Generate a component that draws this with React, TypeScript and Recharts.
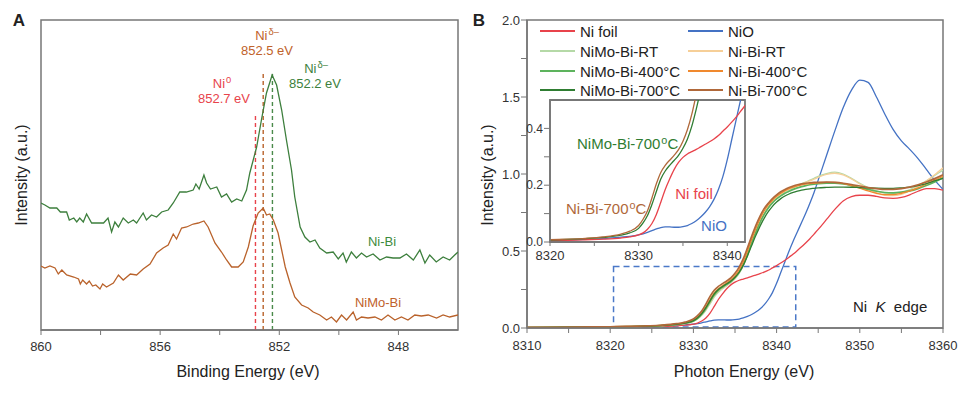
import type { ReactNode } from "react";
import { LineChart, Line, XAxis, YAxis, ReferenceLine, ReferenceArea } from "recharts";

const FONT = "'Liberation Sans', Arial, Helvetica, sans-serif";
const AXIS = "#777";
const TICK = { fontSize: 13, fill: "#333", fontFamily: FONT };

// ---- panel A: Ni 2p XPS ----
const niBiEnergy = [
  860, 859.87, 859.7, 859.47, 859.35, 859.14, 859.05, 858.9, 858.8, 858.7, 858.58, 858.47, 858.3, 858.13,
  857.9, 857.75, 857.63, 857.52, 857.4, 857.24, 857.07, 856.9, 856.79, 856.57, 856.46, 856.29, 856.12,
  855.95, 855.73, 855.56, 855.34, 855.12, 854.89, 854.8, 854.69, 854.53, 854.44, 854.31, 854.1, 853.94,
  853.77, 853.6, 853.43, 853.26, 853.1, 852.99, 852.76, 852.6, 852.43, 852.24, 852.09, 851.92, 851.76,
  851.59, 851.48, 851.3, 851.14, 850.97, 850.8, 850.64, 850.41, 850.19, 850.02, 849.86, 849.75, 849.58,
  849.41, 849.24, 849.07, 848.85, 848.62, 848.4, 848.18, 847.95, 847.73, 847.5, 847.28, 847.11, 846.95,
  846.73, 846.5, 846.28, 846.11, 846,
];
const niBiIntensity = [
  127, 125, 122, 122, 118, 118, 110, 112, 108, 112, 108, 116, 107, 107,
  107, 112, 98, 108, 103, 112, 107, 110, 107, 117, 110, 115, 113,
  118, 120, 127, 138, 138, 140, 146, 141, 155, 147, 141, 143, 133,
  136, 128, 131, 129, 140, 157, 183, 210, 237, 255, 245, 220, 190,
  160, 133, 103, 93, 88, 90, 82, 77, 78, 71, 77, 68, 78,
  72, 77, 73, 76, 70, 73, 72, 72, 76, 70, 80, 67, 75,
  68, 73, 70, 75, 78,
];
const niMoBiEnergy = [
  860, 859.87, 859.7, 859.53, 859.42, 859.3, 859.14, 858.9, 858.74, 858.68, 858.6, 858.47, 858.38, 858.27,
  858.16, 858.02, 857.93, 857.8, 857.57, 857.4, 857.24, 857, 856.79, 856.57, 856.34, 856.12, 855.9,
  855.73, 855.56, 855.45, 855.28, 855.11, 854.89, 854.72, 854.53, 854.39, 854.16, 853.94, 853.77, 853.6,
  853.38, 853.21, 853.04, 852.88, 852.71, 852.54, 852.43, 852.32, 852.2, 852.04, 851.92, 851.8, 851.64,
  851.48, 851.25, 851.03, 850.86, 850.64, 850.41, 850.25, 850.08, 849.91, 849.74, 849.52, 849.41, 849.24,
  849.02, 848.79, 848.57, 848.35, 848.12, 847.9, 847.68, 847.45, 847.23, 847, 846.72, 846.5, 846.28, 846,
];
const niMoBiIntensity = [
  64, 62, 64, 62, 56, 60, 55, 53, 51, 46, 50, 46, 49, 44,
  45, 41, 46, 43, 47, 55, 50, 56, 55, 61, 66, 77, 82,
  85, 96, 91, 102, 103, 106, 107, 109, 103, 87, 78, 70, 63,
  63, 68, 83, 104, 117, 122, 115, 116, 110, 97, 80, 63, 47,
  33, 25, 22, 18, 15, 10, 13, 8, 15, 10, 18, 10, 13,
  12, 13, 10, 15, 10, 13, 10, 15, 14, 15, 12, 15, 13, 15,
];
const xpsTicks = [860, 858, 856, 854, 852, 850, 848];
const xpsLabelled = [860, 856, 852, 848];

// ---- panel B: Ni K-edge XANES ----
const photonEnergy = [
  8310, 8314, 8318, 8320, 8322, 8324, 8326, 8328, 8329, 8330, 8330.5, 8331, 8331.5, 8332, 8332.5, 8333,
  8333.5, 8334, 8334.5, 8335, 8335.5, 8336, 8336.5, 8337, 8337.5, 8338, 8338.5, 8339, 8339.5, 8340,
  8340.5, 8341, 8341.5, 8342, 8342.5, 8343, 8343.5, 8344, 8344.5, 8345, 8346, 8347, 8348, 8349, 8350,
  8351, 8352, 8353, 8354, 8355, 8356, 8357, 8358, 8359, 8360,
];
const niFoil = [
  0.002, 0.003, 0.004, 0.005, 0.006, 0.008, 0.01, 0.014, 0.018, 0.025, 0.032, 0.045, 0.065, 0.097, 0.14, 0.185,
  0.222, 0.255, 0.28, 0.298, 0.31, 0.318, 0.326, 0.335, 0.344, 0.353, 0.363, 0.375, 0.39, 0.405,
  0.422, 0.44, 0.46, 0.48, 0.503, 0.527, 0.553, 0.58, 0.61, 0.64, 0.705, 0.77, 0.825, 0.853, 0.862,
  0.862, 0.855, 0.845, 0.842, 0.848, 0.865, 0.888, 0.905, 0.905, 0.895,
];
const niO = [
  0.002, 0.003, 0.005, 0.006, 0.007, 0.009, 0.012, 0.017, 0.02, 0.025, 0.029, 0.034, 0.04, 0.046, 0.051, 0.053,
  0.053, 0.052, 0.052, 0.054, 0.058, 0.065, 0.075, 0.088, 0.104, 0.124, 0.15, 0.185, 0.23, 0.29,
  0.36, 0.43, 0.5, 0.565, 0.625, 0.685, 0.745, 0.81, 0.88, 0.96, 1.12, 1.28, 1.43, 1.545, 1.61,
  1.595, 1.5, 1.39, 1.29, 1.215, 1.16, 1.1, 1.03, 0.96, 0.9,
];
const niMoBiRT = [
  0.003, 0.004, 0.006, 0.007, 0.009, 0.011, 0.015, 0.022, 0.029, 0.042, 0.058, 0.082, 0.115, 0.157, 0.2, 0.232,
  0.255, 0.275, 0.295, 0.32, 0.355, 0.405, 0.47, 0.545, 0.615, 0.68, 0.735, 0.78, 0.815, 0.843,
  0.865, 0.883, 0.898, 0.912, 0.925, 0.937, 0.948, 0.96, 0.972, 0.985, 1.003, 1.012, 1.0, 0.972, 0.94,
  0.912, 0.89, 0.876, 0.873, 0.88, 0.898, 0.925, 0.955, 0.99, 1.025,
];
const niBiRT = [
  0.003, 0.004, 0.006, 0.007, 0.009, 0.011, 0.015, 0.023, 0.03, 0.044, 0.062, 0.087, 0.122, 0.165, 0.208, 0.238,
  0.26, 0.28, 0.3, 0.325, 0.36, 0.41, 0.475, 0.55, 0.62, 0.685, 0.74, 0.785, 0.82, 0.848,
  0.87, 0.888, 0.902, 0.914, 0.925, 0.935, 0.945, 0.955, 0.966, 0.978, 0.997, 1.005, 0.995, 0.968, 0.935,
  0.903, 0.878, 0.862, 0.86, 0.868, 0.89, 0.92, 0.955, 0.995, 1.04,
];
const niMoBi400 = [
  0.003, 0.004, 0.006, 0.007, 0.009, 0.011, 0.016, 0.023, 0.031, 0.045, 0.063, 0.09, 0.127, 0.172, 0.215, 0.245,
  0.265, 0.283, 0.302, 0.328, 0.362, 0.412, 0.478, 0.552, 0.622, 0.685, 0.738, 0.78, 0.812, 0.838,
  0.858, 0.875, 0.888, 0.9, 0.91, 0.918, 0.925, 0.93, 0.934, 0.937, 0.94, 0.94, 0.935, 0.925, 0.912,
  0.9, 0.888, 0.88, 0.878, 0.882, 0.89, 0.905, 0.925, 0.948, 0.975,
];
const niBi400 = [
  0.004, 0.005, 0.007, 0.008, 0.01, 0.012, 0.017, 0.026, 0.034, 0.05, 0.07, 0.098, 0.138, 0.185, 0.228, 0.255,
  0.275, 0.293, 0.313, 0.34, 0.378, 0.43, 0.5, 0.575, 0.645, 0.708, 0.76, 0.8, 0.83, 0.855,
  0.875, 0.892, 0.905, 0.915, 0.923, 0.93, 0.935, 0.938, 0.94, 0.942, 0.945, 0.945, 0.938, 0.925, 0.908,
  0.89, 0.875, 0.866, 0.866, 0.875, 0.89, 0.91, 0.935, 0.96, 0.985,
];
const niMoBi700 = [
  0.004, 0.005, 0.006, 0.007, 0.009, 0.012, 0.016, 0.024, 0.032, 0.048, 0.067, 0.093, 0.132, 0.178, 0.222, 0.25,
  0.27, 0.287, 0.305, 0.33, 0.362, 0.408, 0.468, 0.535, 0.6, 0.66, 0.712, 0.755, 0.79, 0.818,
  0.84, 0.857, 0.87, 0.88, 0.888, 0.895, 0.9, 0.904, 0.907, 0.91, 0.913, 0.915, 0.915, 0.914, 0.912,
  0.91, 0.908, 0.907, 0.907, 0.91, 0.915, 0.925, 0.938, 0.955, 0.972,
];
const niBi700 = [
  0.004, 0.005, 0.007, 0.008, 0.01, 0.013, 0.018, 0.028, 0.038, 0.058, 0.08, 0.11, 0.155, 0.205, 0.245, 0.27,
  0.288, 0.305, 0.325, 0.355, 0.395, 0.45, 0.52, 0.595, 0.665, 0.725, 0.775, 0.81, 0.84, 0.865,
  0.885, 0.9, 0.912, 0.922, 0.93, 0.936, 0.94, 0.943, 0.945, 0.946, 0.947, 0.945, 0.94, 0.932, 0.922,
  0.912, 0.905, 0.9, 0.9, 0.905, 0.915, 0.93, 0.948, 0.97, 0.995,
];
const xanesXTicks = [8310, 8315, 8320, 8325, 8330, 8335, 8340, 8345, 8350, 8355, 8360];
const xanesYTicks = [0, 0.25, 0.5, 0.75, 1, 1.25, 1.5, 1.75, 2];
const insetXTicks = [8320, 8325, 8330, 8335, 8340];
const insetYTicks = [0, 0.1, 0.2, 0.3, 0.4];

const COLORS = {
  niFoil: "#e8434b",
  niO: "#4472c4",
  niMoBiRT: "#b5d9a7",
  niBiRT: "#f6cf98",
  niMoBi400: "#5db35d",
  niBi400: "#f0892e",
  niMoBi700: "#2f7d32",
  niBi700: "#b0683a",
};

const xanesRows = photonEnergy.map((e, i) => ({
  e,
  niFoil: niFoil[i],
  niO: niO[i],
  niMoBiRT: niMoBiRT[i],
  niBiRT: niBiRT[i],
  niMoBi400: niMoBi400[i],
  niBi400: niBi400[i],
  niMoBi700: niMoBi700[i],
  niBi700: niBi700[i],
}));

const niBiRows = niBiEnergy.map((e, i) => ({ e, v: niBiIntensity[i] }));
const niMoBiRows = niMoBiEnergy.map((e, i) => ({ e, v: niMoBiIntensity[i] }));

type NoteProps = {
  x: number;
  y: number;
  color?: string;
  size?: number;
  anchor?: "start" | "middle";
  bold?: boolean;
  rotate?: boolean;
  children: ReactNode;
};

function Note({ x, y, color = "#222", size = 13, anchor = "middle", bold, rotate, children }: NoteProps) {
  const tx = anchor === "middle" ? "-50%" : "0";
  return (
    <div
      style={{
        position: "absolute",
        left: x,
        top: y,
        transform: `translate(${tx}, -50%)${rotate ? " rotate(-90deg)" : ""}`,
        color,
        fontSize: size,
        fontFamily: FONT,
        fontWeight: bold ? 700 : 400,
        whiteSpace: "nowrap",
        lineHeight: 1,
      }}
    >
      {children}
    </div>
  );
}

const Sup = ({ children }: { children: ReactNode }) => (
  <span style={{ fontSize: "0.72em", position: "relative", top: "-0.5em", marginLeft: 1 }}>{children}</span>
);

function LegendItem({ x, y, color, width = 1.5, label }: { x: number; y: number; color: string; width?: number; label: string }) {
  return (
    <>
      <div style={{ position: "absolute", left: x, top: y - width / 2, width: 35, height: width, background: color }} />
      <Note x={x + 40} y={y} size={15} anchor="start" color="#222">
        {label}
      </Note>
    </>
  );
}

const seriesOrder: (keyof typeof COLORS)[] = [
  "niO",
  "niFoil",
  "niMoBiRT",
  "niBiRT",
  "niMoBi400",
  "niBi400",
  "niMoBi700",
  "niBi700",
];

export default function App() {
  return (
    <div style={{ position: "absolute", left: 0, top: 0, width: 970, height: 393, background: "#fff", overflow: "hidden" }}>
      {/* panel A */}
      <div style={{ position: "absolute", left: 0, top: 0 }}>
        <LineChart width={470} height={393} margin={{ top: 20, right: 12, bottom: 33, left: 41 }}>
          <XAxis
            dataKey="e"
            type="number"
            domain={[846, 860]}
            reversed
            allowDataOverflow
            ticks={xpsTicks}
            tickFormatter={(v: number) => (xpsLabelled.includes(v) ? String(v) : "")}
            tick={TICK}
            tickSize={5}
            tickMargin={7}
            height={30}
            axisLine={{ stroke: AXIS, strokeWidth: 1.5 }}
            tickLine={{ stroke: AXIS }}
          />
          <YAxis type="number" domain={[0, 310]} hide />
          <ReferenceArea x1={846} x2={860} y1={0} y2={310} fill="none" stroke={AXIS} strokeWidth={1.5} />
          <ReferenceLine segment={[{ x: 852.8, y: 0 }, { x: 852.8, y: 217 }]} stroke="#e8434b" strokeDasharray="4 3" strokeWidth={1.4} />
          <ReferenceLine segment={[{ x: 852.54, y: 0 }, { x: 852.54, y: 257 }]} stroke="#b9622b" strokeDasharray="4 3" strokeWidth={1.4} />
          <ReferenceLine segment={[{ x: 852.23, y: 0 }, { x: 852.23, y: 257 }]} stroke="#4a8a4a" strokeDasharray="4 3" strokeWidth={1.4} />
          <Line data={niMoBiRows} dataKey="v" type="linear" stroke="#b9622b" strokeWidth={1.3} dot={false} activeDot={false} isAnimationActive={false} />
          <Line data={niBiRows} dataKey="v" type="linear" stroke="#3d7f3d" strokeWidth={1.3} dot={false} activeDot={false} isAnimationActive={false} />
        </LineChart>
      </div>

      {/* panel B main */}
      <div style={{ position: "absolute", left: 480, top: 0 }}>
        <LineChart width={480} height={393} data={xanesRows} margin={{ top: 20, right: 17, bottom: 35, left: 0 }}>
          <XAxis
            dataKey="e"
            type="number"
            domain={[8310, 8360]}
            allowDataOverflow
            ticks={xanesXTicks}
            tickFormatter={(v: number) => (v % 10 === 0 ? String(v) : "")}
            tick={TICK}
            tickSize={5}
            tickMargin={8}
            height={30}
            axisLine={{ stroke: AXIS, strokeWidth: 1.5 }}
            tickLine={{ stroke: AXIS }}
          />
          <YAxis
            type="number"
            domain={[0, 2]}
            allowDataOverflow
            ticks={xanesYTicks}
            tickFormatter={(v: number) => (v % 0.5 === 0 ? v.toFixed(1) : "")}
            tick={TICK}
            tickSize={6}
            tickMargin={1}
            width={47}
            axisLine={{ stroke: AXIS, strokeWidth: 1.5 }}
            tickLine={{ stroke: AXIS }}
          />
          <ReferenceArea x1={8310} x2={8360} y1={0} y2={2} fill="none" stroke={AXIS} strokeWidth={1.5} />
          <ReferenceArea x1={8320.4} x2={8342.3} y1={0.006} y2={0.4} fill="none" stroke="#4a78c8" strokeDasharray="6 4" strokeWidth={1.5} />
          {seriesOrder.map((k) => (
            <Line
              key={k}
              dataKey={k}
              type="monotone"
              stroke={COLORS[k]}
              strokeWidth={k === "niBi700" || k === "niMoBi400" ? 1.7 : 1.3}
              dot={false}
              activeDot={false}
              isAnimationActive={false}
            />
          ))}
        </LineChart>
      </div>

      {/* inset background */}
      <div style={{ position: "absolute", left: 550, top: 100, width: 195, height: 142, background: "#fff" }} />

      {/* panel B inset */}
      <div style={{ position: "absolute", left: 519, top: 90 }}>
        <LineChart width={236} height={180} data={xanesRows} margin={{ top: 10, right: 10, bottom: 8, left: 0 }}>
          <XAxis
            dataKey="e"
            type="number"
            domain={[8320, 8342]}
            allowDataOverflow
            ticks={insetXTicks}
            tickFormatter={(v: number) => (v % 10 === 0 ? String(v) : "")}
            tick={TICK}
            tickSize={4}
            tickMargin={5}
            height={20}
            axisLine={{ stroke: AXIS, strokeWidth: 1.5 }}
            tickLine={{ stroke: AXIS }}
          />
          <YAxis
            type="number"
            domain={[0, 0.5]}
            allowDataOverflow
            ticks={insetYTicks}
            tickFormatter={(v: number) => (Math.round(v * 10) % 2 === 0 ? v.toFixed(1) : "")}
            tick={{ ...TICK, fontSize: 12 }}
            tickSize={6}
            tickMargin={1}
            width={31}
            axisLine={{ stroke: AXIS, strokeWidth: 1.5 }}
            tickLine={{ stroke: AXIS }}
          />
          <ReferenceArea x1={8320} x2={8342} y1={0} y2={0.5} fill="none" stroke={AXIS} strokeWidth={1.8} />
          {(["niO", "niFoil", "niMoBi700", "niBi700"] as (keyof typeof COLORS)[]).map((k) => (
            <Line
              key={k}
              dataKey={k}
              type="monotone"
              stroke={COLORS[k]}
              strokeWidth={1.3}
              dot={false}
              activeDot={false}
              isAnimationActive={false}
            />
          ))}
        </LineChart>
      </div>

      {/* panel A text */}
      <Note x={19} y={20} size={17} bold>A</Note>
      <Note x={22} y={175} size={16} rotate>Intensity (a.u.)</Note>
      <Note x={248} y={372} size={16}>Binding Energy (eV)</Note>
      <Note x={222} y={84} color="#e8434b">
        Ni<Sup>0</Sup>
      </Note>
      <Note x={224} y={98} color="#e8434b">852.7 eV</Note>
      <Note x={267} y={36} color="#c0622b">
        Ni<Sup>δ–</Sup>
      </Note>
      <Note x={267} y={50} color="#c0622b">852.5 eV</Note>
      <Note x={316} y={69} color="#3d7f3d">
        Ni<Sup>δ–</Sup>
      </Note>
      <Note x={315} y={83} color="#3d7f3d">852.2 eV</Note>
      <Note x={382} y={241} color="#3d8a3d">Ni-Bi</Note>
      <Note x={378} y={302} color="#c0622b">NiMo-Bi</Note>

      {/* panel B text */}
      <Note x={479} y={20} size={17} bold>B</Note>
      <Note x={488} y={175} size={16} rotate>Intensity (a.u.)</Note>
      <Note x={744} y={372} size={16}>Photon Energy (eV)</Note>
      <Note x={853} y={306} size={15} anchor="start">
        Ni&nbsp; <i>K</i>&nbsp; edge
      </Note>

      <LegendItem x={540} y={31} color={COLORS.niFoil} label="Ni foil" />
      <LegendItem x={688} y={31} color={COLORS.niO} label="NiO" />
      <LegendItem x={540} y={51} color={COLORS.niMoBiRT} label="NiMo-Bi-RT" />
      <LegendItem x={688} y={51} color={COLORS.niBiRT} label="Ni-Bi-RT" />
      <LegendItem x={540} y={71} color={COLORS.niMoBi400} width={2.5} label="NiMo-Bi-400°C" />
      <LegendItem x={688} y={71} color={COLORS.niBi400} label="Ni-Bi-400°C" />
      <LegendItem x={540} y={90} color={COLORS.niMoBi700} label="NiMo-Bi-700°C" />
      <LegendItem x={688} y={90} color={COLORS.niBi700} width={2.8} label="Ni-Bi-700°C" />

      <Note x={577} y={143} size={15} anchor="start" color={COLORS.niMoBi700}>
        NiMo-Bi-700<Sup>o</Sup>C
      </Note>
      <Note x={566} y={208} size={15} anchor="start" color={COLORS.niBi700}>
        Ni-Bi-700<Sup>o</Sup>C
      </Note>
      <Note x={694} y={193} size={15} color={COLORS.niFoil}>Ni foil</Note>
      <Note x={714} y={225} size={15} color={COLORS.niO}>NiO</Note>
    </div>
  );
}
